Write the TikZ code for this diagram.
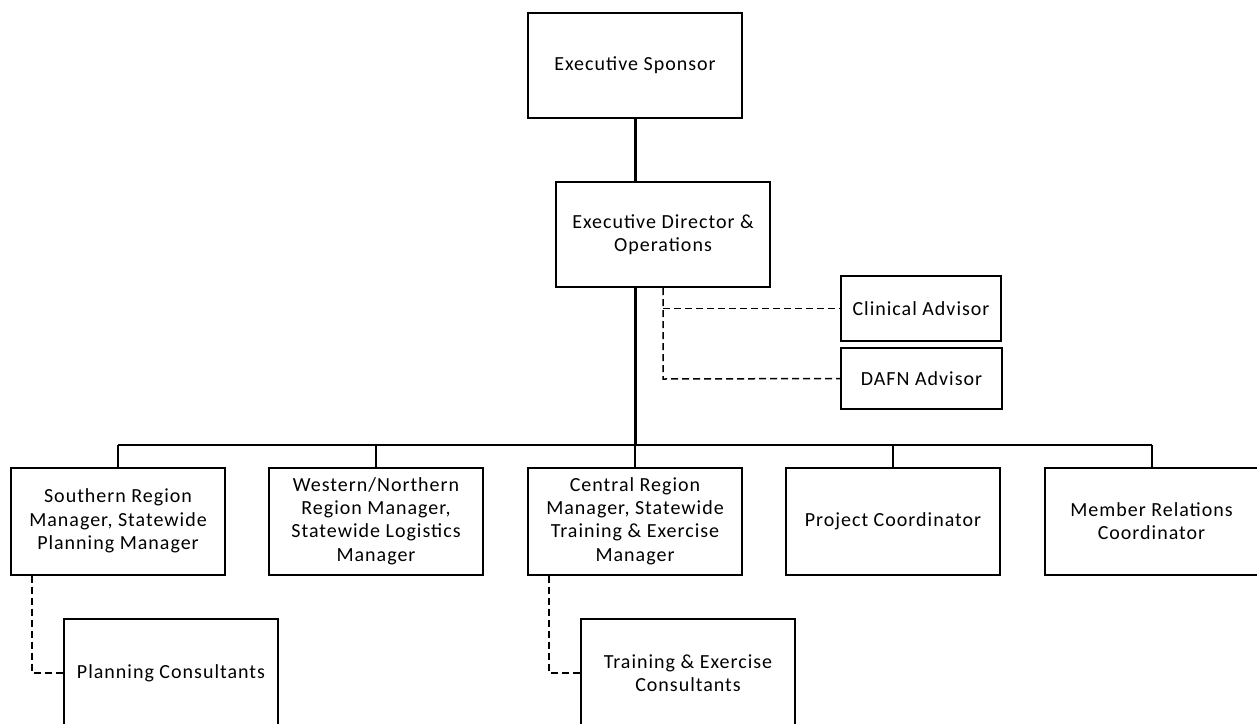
\documentclass[tikz,border=0pt]{standalone}
\usepackage{fontspec}
\setmainfont{Carlito}[LetterSpace=5]
\begin{document}
\begin{tikzpicture}[x=1pt,y=-1pt,
  box/.style={draw=black, line width=2pt, fill=white, align=center, inner sep=2pt,
    minimum width=214pt, minimum height=105pt,
    font=\fontsize{20}{23.3}\selectfont},
  thickline/.style={line width=3pt},
  busline/.style={line width=2pt},
  dashline/.style={line width=1.5pt, dash pattern=on 7pt off 4pt}]
\useasboundingbox (0,0) rectangle (1257,723);
\clip (0,0) rectangle (1257,723);
\fill[white] (0,0) rectangle (1257,723);

% nodes
\node[box] (sponsor) at (635,65.5) {Executive Sponsor};
\node[box] (director) at (663,234.5) {Executive Director \&\\Operations};
\node[box, minimum width=160pt, minimum height=65pt] (clinical) at (921,308.5) {Clinical Advisor};
\node[box, minimum width=161pt, minimum height=61pt] (dafn) at (921.5,378.5) {DAFN Advisor};

\node[box, minimum height=107pt] (southern) at (118,521) {Southern Region\\Manager, Statewide\\Planning Manager};
\node[box, minimum height=107pt] (western) at (376,521) {Western/Northern\\Region Manager,\\Statewide Logistics\\Manager};
\node[box, minimum height=107pt] (central) at (635,521) {Central Region\\Manager, Statewide\\Training \& Exercise\\Manager};
\node[box, minimum height=107pt] (project) at (893,521) {Project Coordinator};
\node[box, minimum height=107pt] (member) at (1151.5,521) {Member Relations\\Coordinator};

\node[box, minimum height=108pt] (planning) at (171,673) {Planning Consultants};
\node[box, minimum height=108pt] (training) at (688,673) {Training \& Exercise\\Consultants};

% coordinates
\coordinate (busC) at (635,445);
\coordinate (busL) at (118,445);
\coordinate (busR) at (1151.5,445);
\coordinate (dd) at (663,379);
\coordinate (sd) at (32,673);
\coordinate (cd) at (549,673);

% solid connectors
\draw[thickline] (sponsor.south) -- (sponsor.south |- director.north);
\draw[thickline] (busC |- director.south) -- (busC);
\draw[busline] (busL) -- (busR);
\draw[busline] (busL) -- (southern.north);
\draw[busline] (western.north |- busC) -- (western.north);
\draw[busline] (busC) -- (central.north);
\draw[busline] (project.north |- busC) -- (project.north);
\draw[busline] (busR) -- (member.north);

% dashed connectors
\draw[dashline] (dd |- director.south) -- (dd) -- (dafn.west);
\draw[dashline] (dd |- clinical.west) -- (clinical.west);
\draw[dashline] (sd |- southern.south) -- (sd) -- (planning.west);
\draw[dashline] (cd |- central.south) -- (cd) -- (training.west);
\end{tikzpicture}
\end{document}
